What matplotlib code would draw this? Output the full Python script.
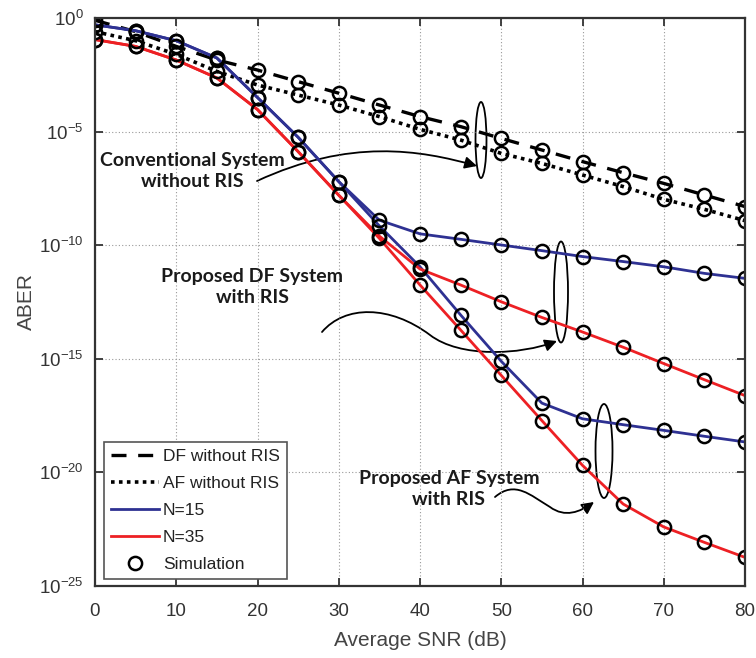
import numpy as np
import matplotlib
matplotlib.use('Agg')
import matplotlib.pyplot as plt
from matplotlib.patches import Ellipse, FancyArrowPatch
from matplotlib.path import Path
from matplotlib.ticker import NullLocator

plt.rcParams['font.family'] = ['Liberation Sans', 'DejaVu Sans']
plt.rcParams['mathtext.default'] = 'regular'
plt.rcParams['axes.unicode_minus'] = False

# average SNR (dB)
snr = [0, 5, 10, 15, 20, 25, 30, 35, 40, 45, 50, 55, 60, 65, 70, 75, 80]

# ABER as log10 exponents
df_noris = [-0.1, -0.6, -1.25, -1.85, -2.29, -2.80, -3.31, -3.83, -4.34, -4.78, -5.30, -5.81, -6.32, -6.81, -7.28, -7.79, -8.30]
af_noris = [-0.6, -1.0, -1.6, -2.35, -2.95, -3.39, -3.83, -4.34, -4.90, -5.37, -5.96, -6.40, -6.91, -7.42, -7.98, -8.42, -8.92]
df_n15 = [-0.3, -0.56, -1.0, -1.76, -3.5, -5.25, -7.2, -8.9, -9.5, -9.74, -9.99, -10.24, -10.5, -10.72, -10.95, -11.24, -11.46]
af_n15 = [-0.3, -0.56, -1.0, -1.76, -3.5, -5.25, -7.2, -9.15, -10.95, -13.07, -15.11, -16.95, -17.64, -17.9, -18.15, -18.41, -18.66]
df_n35 = [-0.95, -1.25, -1.85, -2.64, -4.03, -5.88, -7.8, -9.6, -11.05, -11.75, -12.49, -13.18, -13.82, -14.49, -15.21, -15.92, -16.62]
af_n35 = [-0.95, -1.25, -1.85, -2.64, -4.03, -5.88, -7.8, -9.7, -11.75, -13.73, -15.73, -17.72, -19.69, -21.39, -22.40, -23.08, -23.74]

blue = '#2e3192'
red = '#ed2024'

x = np.array(snr)
p = lambda e: 10.0 ** np.array(e)

fig = plt.figure(figsize=(7.56, 6.58), dpi=100)
ax = fig.add_axes([95/756, 1-586/658, 650/756, 568/658])
ax.set_yscale('log')

ax.plot(x, p(df_noris), color='black', lw=2.4, dashes=(4.5, 3.5), label='DF without RIS')
ax.plot(x, p(af_noris), color='black', lw=2.6, dashes=(1, 1.2), label='AF without RIS')
ax.plot(x, p(df_n15), color=blue, lw=2, label='N=15')
ax.plot(x, p(af_n15), color=blue, lw=2)
ax.plot(x, p(df_n35), color=red, lw=2, label='N=35')
ax.plot(x, p(af_n35), color=red, lw=2)

# simulation points
first = True
for s in [df_noris, af_noris, df_n15, af_n15, df_n35, af_n35]:
    ax.plot(x, p(s), 'o', mfc='none', mec='black', ms=9.5, mew=1.8,
            label='Simulation' if first else None)
    first = False

ax.set_xlim(0, 80)
ax.set_ylim(1e-25, 1e0)
ax.set_xticks(range(0, 81, 10))
ax.set_yticks([1e0, 1e-5, 1e-10, 1e-15, 1e-20, 1e-25])
ax.yaxis.set_minor_locator(NullLocator())
ax.grid(True, which='major', color='#999999', ls=(0, (1, 2)), lw=0.8)
ax.tick_params(direction='in', top=True, right=True, length=6, width=1.3,
               labelsize=13.5, colors='#333333', pad=8)
ax.tick_params(axis='x', pad=12)
for sp in ax.spines.values():
    sp.set_color('#333333')
    sp.set_linewidth(1.6)
ax.set_xlabel('Average SNR (dB)', fontsize=15, color='#444444', labelpad=8)
ax.set_ylabel('ABER', fontsize=15, color='#444444', labelpad=2)

leg = ax.legend(loc='lower left', bbox_to_anchor=(0.008, 0.006), fontsize=12.5,
                fancybox=False, edgecolor='#555555', framealpha=1,
                handlelength=2.8, handletextpad=0.2, labelspacing=0.68, borderpad=0.4,
                borderaxespad=0.2)
leg.get_frame().set_linewidth(1.2)
for t in leg.get_texts():
    t.set_color('#222222')


# annotation helpers, pixel positions of the reference picture -> axes fraction
def px(u, v):
    return ((u - 95) / 650, (586 - v) / 568)


afont = dict(fontsize=14, fontweight='bold', family=['Lato', 'DejaVu Sans'],
             ha='center', va='center', color='#1a1a1a', linespacing=1.3,
             transform=ax.transAxes)
ax.text(*px(192, 171), 'Conventional System\nwithout RIS', **afont)
ax.text(*px(252, 287), 'Proposed DF System\nwith RIS', **afont)
ax.text(*px(449, 489), 'Proposed AF System\nwith RIS', **afont)

for (cu, cv, w, h) in [(481, 140, 11, 76), (561, 292, 14, 101), (604, 451, 17, 94)]:
    ax.add_patch(Ellipse(px(cu, cv), w / 650, h / 568, transform=ax.transAxes,
                         fill=False, ec='black', lw=1.3))

C4 = Path.CURVE4
arrows = [
    ([(257, 181), (350, 138), (420, 150), (477, 166)], [Path.MOVETO, C4, C4, C4]),
    ([(322, 332), (345, 305), (390, 305), (430, 335), (460, 358), (520, 355), (557, 341)],
     [Path.MOVETO, C4, C4, C4, C4, C4, C4]),
    ([(495, 497), (515, 480), (530, 495), (550, 507), (565, 518), (580, 512), (594, 502)],
     [Path.MOVETO, C4, C4, C4, C4, C4, C4]),
]
for verts, codes in arrows:
    ax.add_patch(FancyArrowPatch(path=Path([px(*v) for v in verts], codes),
                                 transform=ax.transAxes, arrowstyle='-|>',
                                 mutation_scale=18, color='black', lw=1.3))

fig.savefig('out.png', dpi=100)
